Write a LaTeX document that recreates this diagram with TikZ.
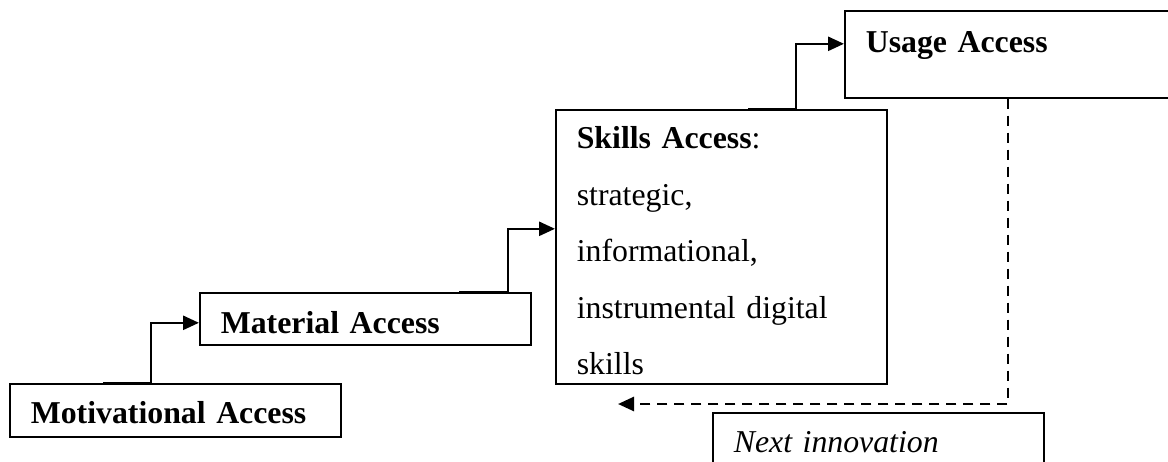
\documentclass[tikz,border=0pt]{standalone}
\usepackage{fontspec}
\setmainfont{Liberation Serif}
\usetikzlibrary{arrows.meta}

\newcommand{\accessfont}{\fontsize{15.9}{28.25}\selectfont}

\tikzset{
  accessbox/.style={draw, line width=0.8pt, rectangle, anchor=north west,
    inner xsep=10.5pt, inner ysep=0pt, text width=144.5pt, align=left,
    minimum width=165.5pt, text height=20pt, text depth=6.5pt, font=\accessfont},
  stair/.style={line width=1.3pt, -{Triangle[length=8pt,width=7pt]}},
  loopback/.style={stair, dash pattern=on 5pt off 3.5pt}
}

\begin{document}
\begin{tikzpicture}[x=0.5pt, y=-0.5pt]
\useasboundingbox (0,0) rectangle (1168,461);

% The four stages of access, each one step higher
\node[accessbox] (motiv) at (9,383) {\textbf{Motivational Access}};
\node[accessbox, text height=20.5pt, text depth=5.5pt] (mater) at (199,292) {\textbf{Material Access}};
\node[accessbox, text height=19.5pt, text depth=117.5pt] (skills) at (555,109)
  {\textbf{Skills Access}:\\ strategic,\\ informational,\\ instrumental digital\\ skills};
\node[accessbox, text height=21pt, text depth=22.5pt] (usage) at (844,10) {\textbf{Usage Access}};
\node[accessbox] (next) at (712,412) {\textit{Next innovation}};

% Steps from one stage up to the next
\draw[stair] ([xshift=47pt]motiv.north west) -- ++(48,0) |- ([yshift=-2pt]mater.west);
\draw[stair] ([xshift=130pt]mater.north west) -- ++(49,0) |- ([yshift=9pt]skills.west);
\draw[stair] ([xshift=96.5pt]skills.north west) -- ++(48,0) |- ([yshift=5.25pt]usage.west);

% Dashed return after usage
\coordinate (loopend) at (618,404);
\draw[loopback] ([xshift=82pt]usage.south west) |- (loopend);
\end{tikzpicture}
\end{document}
